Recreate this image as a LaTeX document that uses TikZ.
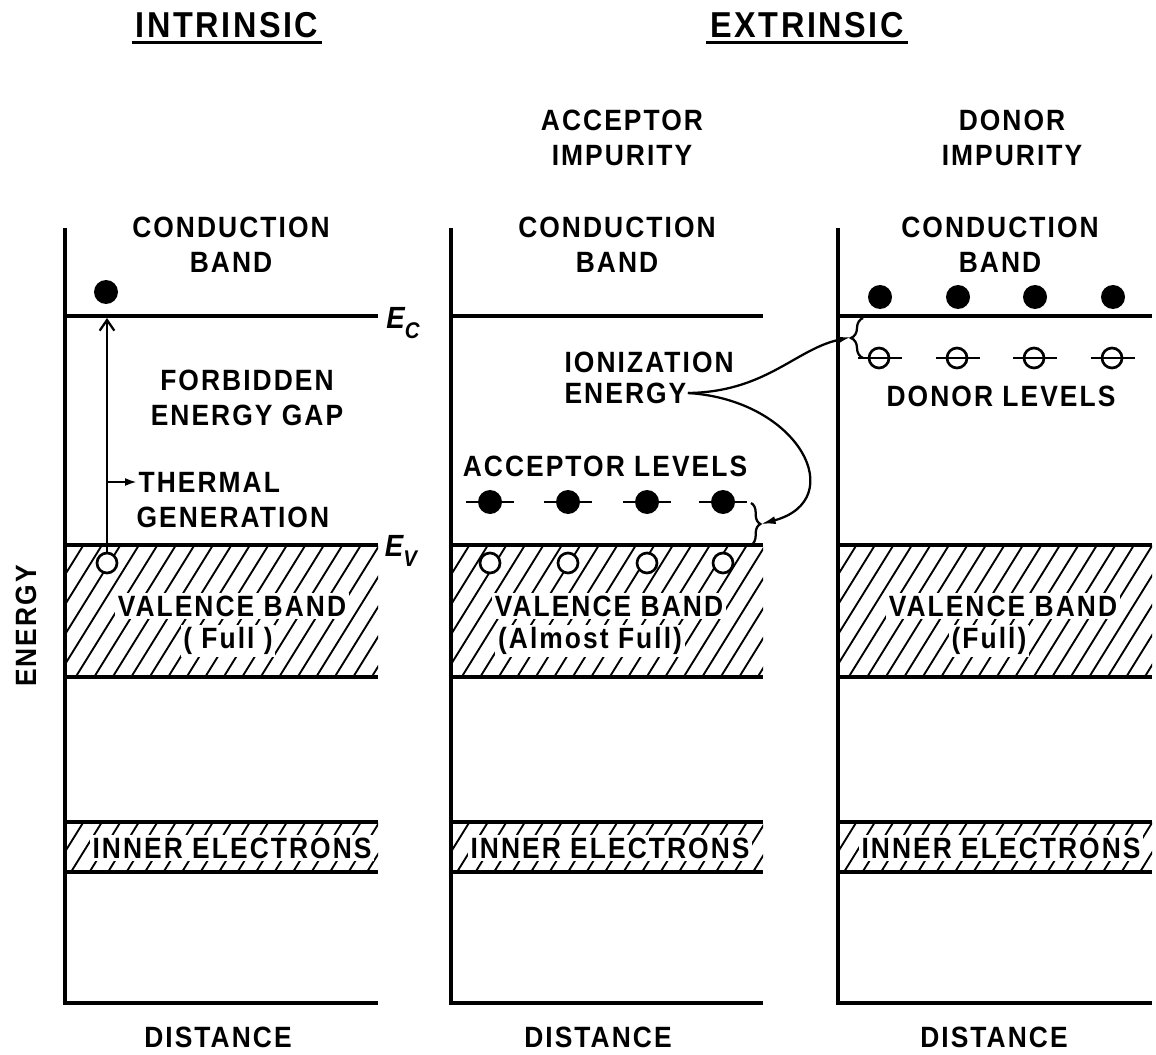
\documentclass[tikz,border=0pt]{standalone}
\usepackage{fontspec}
\setmainfont{Liberation Sans}[LetterSpace=7, FakeStretch=0.9]
\usetikzlibrary{arrows.meta,decorations.pathreplacing}

\newcommand{\hatchbox}[4]{%
  \begin{scope}
    \clip (#1,#2) rectangle (#3,#4);
    \pgfmathsetmacro{\hhh}{#4-#2}
    \pgfmathsetmacro{\hdx}{0.62*\hhh}
    \foreach \i in {0,...,26}{%
      \draw[hatchl] ({#1-\hdx+18.5*\i},#4) -- ++(\hdx,-\hhh);}
  \end{scope}}

\newcommand{\bandpanel}[2]{%
  \hatchbox{#1}{545}{#2}{677}
  \hatchbox{#1}{822}{#2}{872}
  \draw[axis] (#1,228) -- (#1,1003) -- (#2,1003);
  \draw[band] (#1,316) -- (#2,316);
  \draw[band] (#1,545) -- (#2,545);
  \draw[band] (#1,677) -- (#2,677);
  \draw[band] (#1,822) -- (#2,822);
  \draw[band] (#1,872) -- (#2,872);
}

\begin{document}
\begin{tikzpicture}[x=0.75pt,y=-0.75pt,
  axis/.style={line width=3pt, line join=miter},
  band/.style={line width=2.6pt},
  hatchl/.style={line width=1.4pt},
  txt/.style={font=\fontsize{22}{26}\selectfont\bfseries, align=center, inner sep=1pt},
  ttl/.style={font=\fontsize{27}{32}\selectfont\bfseries, inner sep=3pt},
  wtxt/.style={txt, fill=white, inner sep=2pt},
  elec/.style={circle, fill=black, inner sep=0pt, minimum size=18pt},
  hole/.style={circle, draw=black, fill=white, line width=2pt, inner sep=0pt, minimum size=15pt},
  dlev/.style={circle, draw=black, line width=2pt, inner sep=0pt, minimum size=15pt},
  lvl/.style={line width=2pt},
  conn/.style={line width=1.7pt},
  elab/.style={font=\fontsize{23}{26}\selectfont\bfseries\itshape, inner sep=0pt}
]
\useasboundingbox (0,0) rectangle (1156,1055);

% titles
\node[ttl, anchor=base] (intr) at (227,38) {INTRINSIC};
\draw[band] (intr.south west) -- (intr.south east);
\node[ttl, anchor=base] (extr) at (807,38) {EXTRINSIC};
\draw[band] (extr.south west) -- (extr.south east);
\node[txt] (acc) at (622,138) {ACCEPTOR\\IMPURITY};
\node[txt] (don) at (1012,138) {DONOR\\IMPURITY};

% panels
\bandpanel{65}{378}
\bandpanel{451}{763}
\bandpanel{838}{1152}

% axis labels
\node[txt, rotate=90] (energy) at (26,626) {ENERGY};
\node[txt] (dist1) at (218,1037) {DISTANCE};
\node[txt] (dist2) at (598,1037) {DISTANCE};
\node[txt] (dist3) at (994,1037) {DISTANCE};

% ---------- panel 1 ----------
\node[txt] (cb1) at (231,245) {CONDUCTION\\BAND};
\node[txt] (gap) at (247,398) {FORBIDDEN\\ENERGY GAP};
\node[elab] (ec) at (403,323) {E\raisebox{-7pt}{\fontsize{17}{17}\selectfont C}};
\node[elab] (ev) at (401,551) {E\raisebox{-7pt}{\fontsize{17}{17}\selectfont V}};
\node[elec] (e1) at (106,292) {};
\node[hole] (h1) at (107,563) {};
\coordinate (top1) at (107,318);
\draw[conn, -{Straight Barb[length=8pt,width=11pt]}] (h1.north) -- (top1);
\node[txt, anchor=west] (therm) at (137,482) {THERMAL};
\node[txt, anchor=west] (gen) at (135,517) {GENERATION};
\coordinate (tg) at (107,482);
\draw[conn, -{Latex[length=9pt,width=6pt]}] (tg) -- (therm.west);
\node[wtxt] (vb1) at (232,606) {VALENCE BAND};
\node[wtxt] (full1) at (228,641) {( Full )};
\node[wtxt] (ie1) at (232,848) {INNER ELECTRONS};

% ---------- panel 2 ----------
\node[txt] (cb2) at (617,245) {CONDUCTION\\BAND};
\node[txt, anchor=west] (ionI) at (563,362) {IONIZATION};
\node[txt, anchor=west] (ionE) at (563,393) {ENERGY};
\node[txt] (accl) at (605,466) {ACCEPTOR LEVELS};
\foreach \xx [count=\k] in {490,568,647,723}{
  \draw[lvl] (\xx-24,502) -- (\xx+24,502);
  \node[elec] (a\k) at (\xx,502) {};
  \node[hole] (ah\k) at (\xx,563) {};
}
\draw[conn, decorate, decoration={brace, amplitude=7pt}] (751,503) -- (751,545);
\coordinate (brA) at (761,524);
\node[wtxt] (vb2) at (609,606) {VALENCE BAND};
\node[wtxt] (full2) at (590,641) {(Almost Full)};
\node[wtxt] (ie2) at (610,848) {INNER ELECTRONS};

% ---------- panel 3 ----------
\node[txt] (cb3) at (1000,245) {CONDUCTION\\BAND};
\foreach \xx [count=\k] in {880,958,1035,1113}{
  \node[elec] (d\k) at (\xx,297) {};
  \draw[lvl] (\xx-22,358) -- (\xx+22,358);
  \node[dlev] (dl\k) at (\xx-1,358) {};
}
\node[txt] (donl) at (1001,396) {DONOR LEVELS};
\draw[conn, decorate, decoration={brace, amplitude=9pt}] (863,358) -- (863,318);
\coordinate (brD) at (851,337);
\node[wtxt] (vb3) at (1003,606) {VALENCE BAND};
\node[wtxt] (full3) at (989,641) {(Full)};
\node[wtxt] (ie3) at (1001,848) {INNER ELECTRONS};

% ionization connectors
\draw[conn, -{Latex[length=11pt,width=6pt]}] (ionE.east) .. controls (765,392) and (795,350) .. (brD);
\draw[conn, -{Latex[length=11pt,width=6pt]}] (ionE.east) .. controls (800,400) and (850,500) .. (brA);

\end{tikzpicture}
\end{document}
